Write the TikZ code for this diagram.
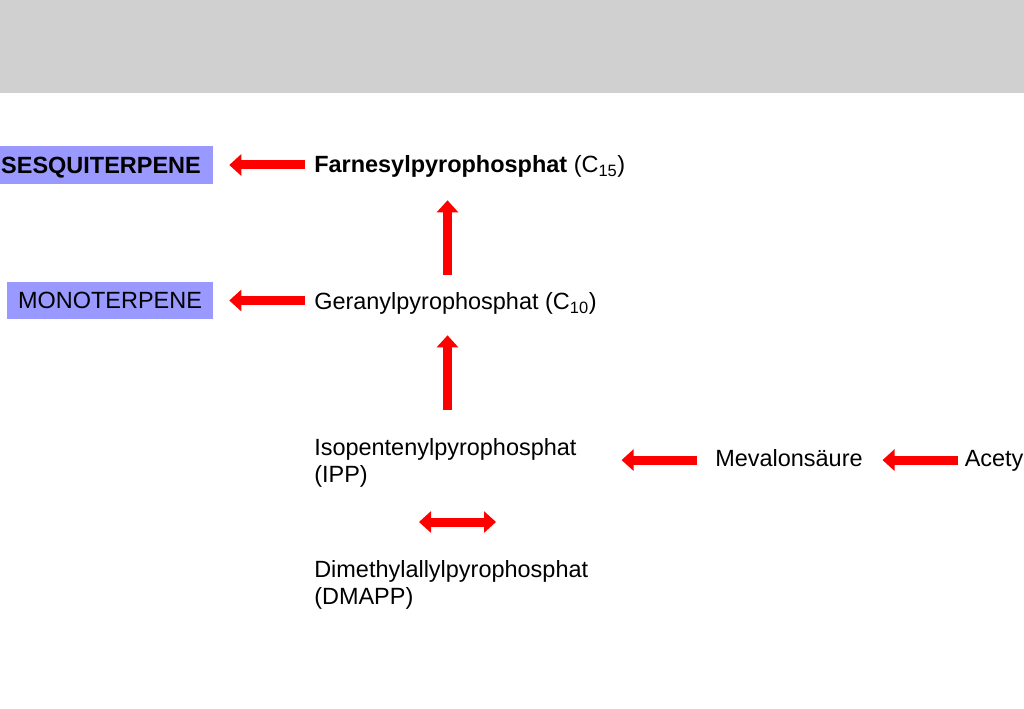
\documentclass[tikz,border=0pt]{standalone}
\usepackage{fontspec}
\setmainfont{Liberation Sans}
\usetikzlibrary{arrows.meta}
\definecolor{bandgray}{HTML}{D1D0D1}
\definecolor{boxblue}{HTML}{9999FF}
\definecolor{arrowred}{HTML}{FF0000}
\begin{document}
\begin{tikzpicture}[x=0.75pt,y=-0.75pt,>={Triangle[width=15.75pt,length=9pt]},
  font=\fontsize{17.6}{20.6}\selectfont,
  txt/.style={inner sep=0pt,anchor=base west,text height=12.6pt,text depth=3.7pt},
  twoline/.style={inner sep=0pt,anchor=north west,align=left},
  termbox/.style={fill=boxblue,inner sep=0pt,text height=12.6pt,text depth=0pt},
  fat/.style={draw=arrowred,line width=6.75pt}]
\useasboundingbox (0,0) rectangle (1024,709);
\fill[bandgray] (0,0) rectangle (1024,93);
%%
\node[termbox,minimum width=168pt,minimum height=28.5pt] (sesq) at (101,165) {\textbf{SESQUITERPENE}};
\node[termbox,minimum width=154.5pt,minimum height=27.75pt] (mono) at (110,300.5) {MONOTERPENE};
\node[txt] (far) at (314,173) {\textbf{Farnesylpyrophosphat} (C\textsubscript{15})};
\node[txt] (ger) at (314,310) {Geranylpyrophosphat (C\textsubscript{10})};
\node[twoline] (ipp) at (314,438.2) {Isopentenylpyrophosphat\\(IPP)};
\node[twoline] (dma) at (314,560.2) {Dimethylallylpyrophosphat\\(DMAPP)};
\node[txt] (mev) at (715,466) {Mevalonsäure};
\node[txt] (acety) at (964.5,466) {Acety};
%%
\draw[fat,->,shorten <=6.75pt,shorten >=12pt] (far.west |- sesq.east) -- (sesq.east);
\draw[fat,->,shorten <=6.75pt,shorten >=12pt] (ger.west |- mono.east) -- (mono.east);
\draw[fat,->,shorten <=13.65pt,shorten >=16.6pt] ([xshift=100.125pt]ger.north west) -- ([xshift=100.125pt]far.south west);
\draw[fat,->,shorten <=21.15pt,shorten >=15.1pt] ([xshift=100.125pt]ipp.north west) -- ([xshift=100.125pt]ger.south west);
%%
\draw[fat,->,shorten <=13.5pt,shorten >=33.6pt] (mev.west) -- (mev.west -| ipp.east);
\draw[fat,->,shorten <=4.9pt,shorten >=14.7pt] (acety.west) -- (acety.west -| mev.east);
%%
\coordinate (isoL) at (419,522);
\coordinate (isoR) at (496,522);
\draw[fat,<->] (isoL) -- (isoR);
\end{tikzpicture}
\end{document}
